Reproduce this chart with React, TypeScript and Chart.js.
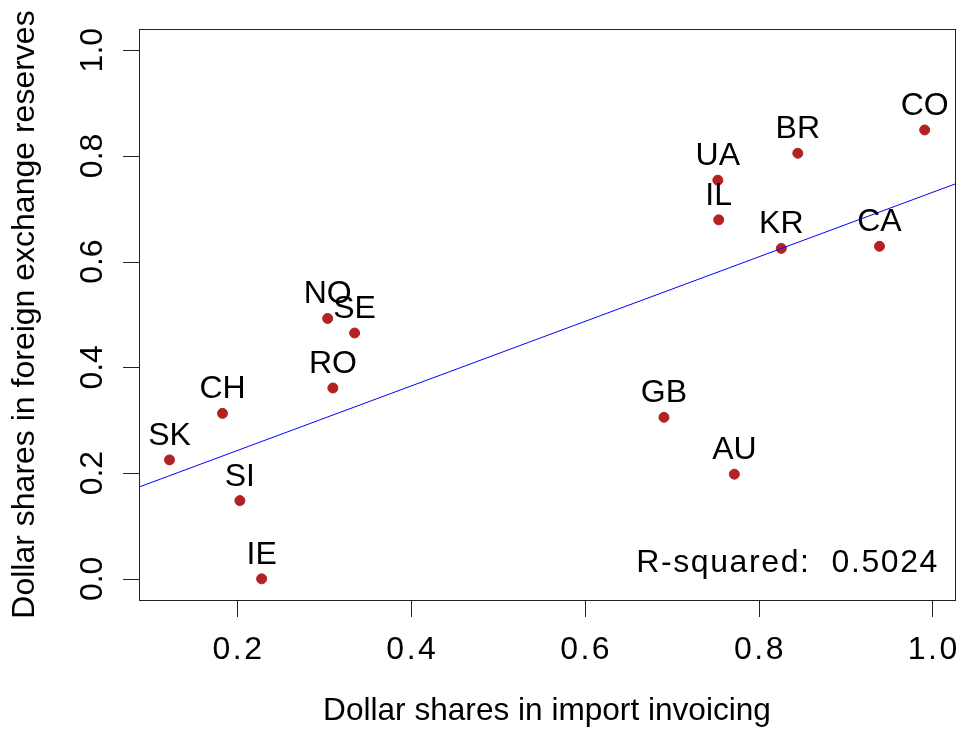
import React, { useEffect, useRef } from "react";
import { Chart, registerables } from "chart.js";

Chart.register(...registerables);

const countries = ["SK", "CH", "RO", "NO", "SE", "SI", "IE", "GB", "AU", "UA", "IL", "BR", "KR", "CA", "CO"];
const importShares = [0.122, 0.183, 0.310, 0.304, 0.335, 0.203, 0.228, 0.691, 0.772, 0.753, 0.754, 0.845, 0.826, 0.939, 0.991];
const reserveShares = [0.225, 0.313, 0.361, 0.4925, 0.465, 0.148, 0.0, 0.3055, 0.198, 0.754, 0.679, 0.805, 0.625, 0.629, 0.849];
const xTicks = [0.2, 0.4, 0.6, 0.8, 1.0];
const yTicks = [0.0, 0.2, 0.4, 0.6, 0.8, 1.0];
const xLimits = [0.0869, 1.0259];
const yLimits = [-0.04, 1.04];
const xTitle = "Dollar shares in import invoicing";
const yTitle = "Dollar shares in foreign exchange reserves";
const rSquaredText = "R-squared:  0.5024";

function ols(xs: number[], ys: number[]) {
  const n = xs.length;
  const mx = xs.reduce((a, b) => a + b, 0) / n;
  const my = ys.reduce((a, b) => a + b, 0) / n;
  let sxy = 0, sxx = 0;
  for (let i = 0; i < n; i++) {
    sxy += (xs[i] - mx) * (ys[i] - my);
    sxx += (xs[i] - mx) * (xs[i] - mx);
  }
  const slope = sxy / sxx;
  return { slope, intercept: my - slope * mx };
}

const FONT = '"Liberation Sans", Arial, sans-serif';

export default function App() {
  const ref = useRef<HTMLCanvasElement>(null);
  useEffect(() => {
    document.body.style.margin = "0";
    const fit = ols(importShares, reserveShares);
    const lineData = xLimits.map((x) => ({ x, y: fit.intercept + fit.slope * x }));
    const pts = importShares.map((x, i) => ({ x, y: reserveShares[i] }));

    const rPlot = {
      id: "rplot",
      afterDraw(chart: any) {
        const { ctx, chartArea: a, scales } = chart;
        const xs = scales.x, ys = scales.y;
        ctx.save();
        ctx.strokeStyle = "#222";
        ctx.lineWidth = 1;
        ctx.strokeRect(Math.round(a.left) + 0.5, Math.round(a.top) + 0.5, Math.round(a.right - a.left), Math.round(a.bottom - a.top));
        ctx.beginPath();
        xTicks.forEach((t) => {
          const px = Math.round(xs.getPixelForValue(t)) + 0.5;
          ctx.moveTo(px, a.bottom);
          ctx.lineTo(px, a.bottom + 17);
        });
        yTicks.forEach((t) => {
          const py = Math.round(ys.getPixelForValue(t)) + 0.5;
          ctx.moveTo(a.left, py);
          ctx.lineTo(a.left - 16, py);
        });
        ctx.stroke();

        ctx.fillStyle = "#000";
        ctx.textAlign = "center";
        ctx.textBaseline = "alphabetic";
        ctx.font = `32px ${FONT}`;
        (ctx as any).letterSpacing = "2.5px";
        xTicks.forEach((t) => {
          ctx.fillText(t.toFixed(1), xs.getPixelForValue(t) + 1.25, 659);
        });
        (ctx as any).letterSpacing = "0px";
        yTicks.forEach((t) => {
          ctx.save();
          ctx.translate(102, ys.getPixelForValue(t));
          ctx.rotate(-Math.PI / 2);
          ctx.fillText(t.toFixed(1), 0, 0);
          ctx.restore();
        });
        ctx.font = `31.6px ${FONT}`;
        ctx.fillText(xTitle, (a.left + a.right) / 2, 720);
        ctx.font = `32px ${FONT}`;
        ctx.save();
        ctx.translate(33.5, (a.top + a.bottom) / 2);
        ctx.rotate(-Math.PI / 2);
        ctx.fillText(yTitle, 0, 0);
        ctx.restore();

        countries.forEach((c, i) => {
          const px = xs.getPixelForValue(importShares[i]);
          const py = ys.getPixelForValue(reserveShares[i]);
          ctx.fillText(c, px, py - 15);
        });
        (ctx as any).letterSpacing = "1.6px";
        ctx.textAlign = "right";
        ctx.fillText(rSquaredText, 939, 572);
        (ctx as any).letterSpacing = "0px";
        ctx.restore();
      },
    };

    const chart = new Chart(ref.current as HTMLCanvasElement, {
      type: "scatter",
      data: {
        datasets: [
          {
            type: "line",
            data: lineData,
            borderColor: "#0000FF",
            borderWidth: 1,
            pointRadius: 0,
            fill: false,
          } as any,
          {
            data: pts,
            backgroundColor: "#B22222",
            borderColor: "#B22222",
            borderWidth: 1,
            pointRadius: 5,
          },
        ],
      },
      options: {
        animation: false,
        responsive: true,
        maintainAspectRatio: false,
        layout: { padding: { left: 0, right: 8, top: 29, bottom: 0 } },
        plugins: { legend: { display: false }, tooltip: { enabled: false } },
        scales: {
          x: {
            type: "linear",
            min: xLimits[0],
            max: xLimits[1],
            grid: { display: false },
            border: { display: false },
            ticks: { display: false },
            afterFit: (s: any) => { s.height = 136; },
          },
          y: {
            type: "linear",
            min: yLimits[0],
            max: yLimits[1],
            grid: { display: false },
            border: { display: false },
            ticks: { display: false },
            afterFit: (s: any) => { s.width = 139; },
          },
        },
      },
      plugins: [rPlot],
    });
    return () => chart.destroy();
  }, []);
  return (
    <div style={{ position: "absolute", left: 0, top: 0, width: 963, height: 736, background: "#fff" }}>
      <canvas ref={ref} />
    </div>
  );
}
